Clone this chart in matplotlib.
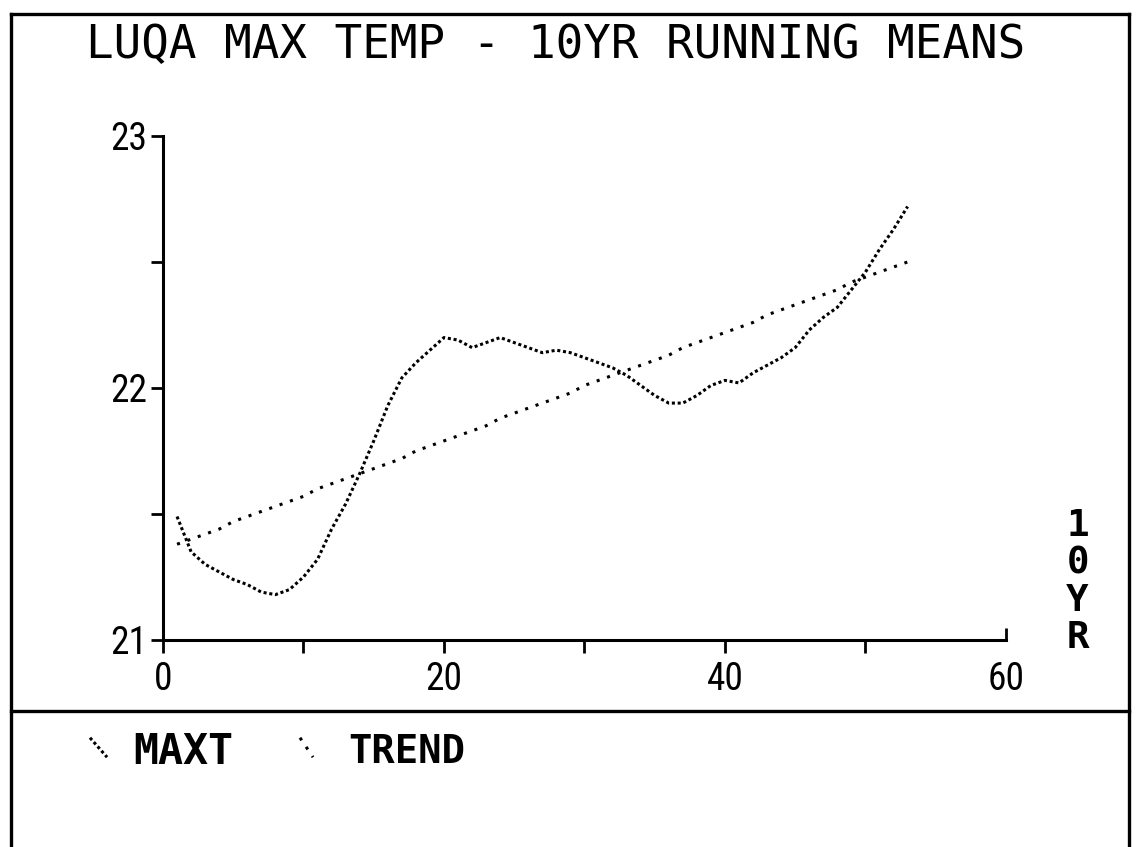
#import the required modules
import matplotlib.pyplot as plt
from matplotlib.lines import Line2D, TICKUP

#10 year running means of the max temperature at Luqa
years = list(range(1, 54))
maxt = [21.49, 21.35, 21.30, 21.27, 21.24, 21.22, 21.19, 21.18, 21.20, 21.25,
        21.32, 21.44, 21.54, 21.66, 21.79, 21.93, 22.04, 22.10, 22.15, 22.20,
        22.19, 22.16, 22.18, 22.20, 22.18, 22.16, 22.14, 22.15, 22.14, 22.12,
        22.10, 22.08, 22.05, 22.01, 21.97, 21.94, 21.94, 21.97, 22.01, 22.03,
        22.02, 22.06, 22.09, 22.12, 22.16, 22.23, 22.28, 22.32, 22.39, 22.46,
        22.55, 22.63, 22.72]
#fitted trend line
trend = [21.38, 21.40, 21.42, 21.44, 21.47, 21.49, 21.51, 21.53, 21.55, 21.57,
         21.60, 21.62, 21.64, 21.66, 21.68, 21.70, 21.72, 21.75, 21.77, 21.79,
         21.81, 21.83, 21.85, 21.88, 21.90, 21.92, 21.94, 21.96, 21.98, 22.01,
         22.03, 22.05, 22.07, 22.09, 22.11, 22.13, 22.16, 22.18, 22.20, 22.22,
         22.24, 22.26, 22.29, 22.31, 22.33, 22.35, 22.37, 22.39, 22.42, 22.44,
         22.46, 22.48, 22.50]

xticks = [0, 10, 20, 30, 40, 50, 60]
xlabels = ['0', '', '20', '', '40', '', '60']
yticks = [21, 21.5, 22, 22.5, 23]
ylabels = ['21', '', '22', '', '23']

mono = ['DejaVu Sans Mono']
narrow = ['Roboto Condensed', 'Liberation Sans Narrow', 'DejaVu Sans']

fig = plt.figure(figsize=(11.39, 8.47), dpi=100)
ax = fig.add_axes([0.1431, 0.2444, 0.7401, 0.5951])

#plot results
ax.plot(years, maxt, color='black', linewidth=2.2, linestyle=(0, (1, 0.9)))
ax.plot(years, trend, color='black', linewidth=2.2, linestyle=(0, (1, 2.6)))

ax.set_xlim(0, 60)
ax.set_ylim(21, 23)
ax.set_xticks(xticks)
ax.set_xticklabels(xlabels, family=narrow, fontsize=27)
ax.set_yticks(yticks)
ax.set_yticklabels(ylabels, family=narrow, fontsize=27)
ax.tick_params(axis='x', length=9, width=2, pad=6)
ax.tick_params(axis='y', length=9, width=2, pad=2)
for side in ['top', 'right']:
    ax.spines[side].set_visible(False)
for side in ['left', 'bottom']:
    ax.spines[side].set_linewidth(2.2)
#last x tick points up into the plot
ax.xaxis.get_major_ticks()[-1].tick1line.set_marker(TICKUP)

ax.text(1.085, 0.115, '1\n0\nY\nR', transform=ax.transAxes, ha='center',
        va='center', family=mono, fontsize=27, fontweight='bold',
        linespacing=1.05)

fig.text(0.488, 0.931, 'LUQA MAX TEMP - 10YR RUNNING MEANS', ha='center',
         va='baseline', family=mono, fontsize=33)

#frame round the page and the legend strip
lw = 2.4
fig.add_artist(Line2D([0.0097, 0.9912], [0.9835, 0.9835], color='black', lw=lw))
fig.add_artist(Line2D([0.0097, 0.0097], [0.0, 0.9835], color='black', lw=lw))
fig.add_artist(Line2D([0.9912, 0.9912], [0.0, 0.9835], color='black', lw=lw))
fig.add_artist(Line2D([0.0097, 0.9912], [0.1605, 0.1605], color='black', lw=lw))

#legend keys
fig.add_artist(Line2D([0.079, 0.094], [0.129, 0.106], color='black', lw=2.2,
                      linestyle=(0, (1, 0.9))))
fig.add_artist(Line2D([0.2634, 0.2748], [0.129, 0.106], color='black', lw=2.2,
                      linestyle=(0, (1, 2.6))))
fig.text(0.1168, 0.112, 'MAXT', ha='left', va='center', family=mono,
         fontsize=30, fontweight='bold')
fig.text(0.3055, 0.112, 'TREND', ha='left', va='center', family=mono,
         fontsize=28, fontweight='bold')

plt.savefig('out.png', dpi=100)
